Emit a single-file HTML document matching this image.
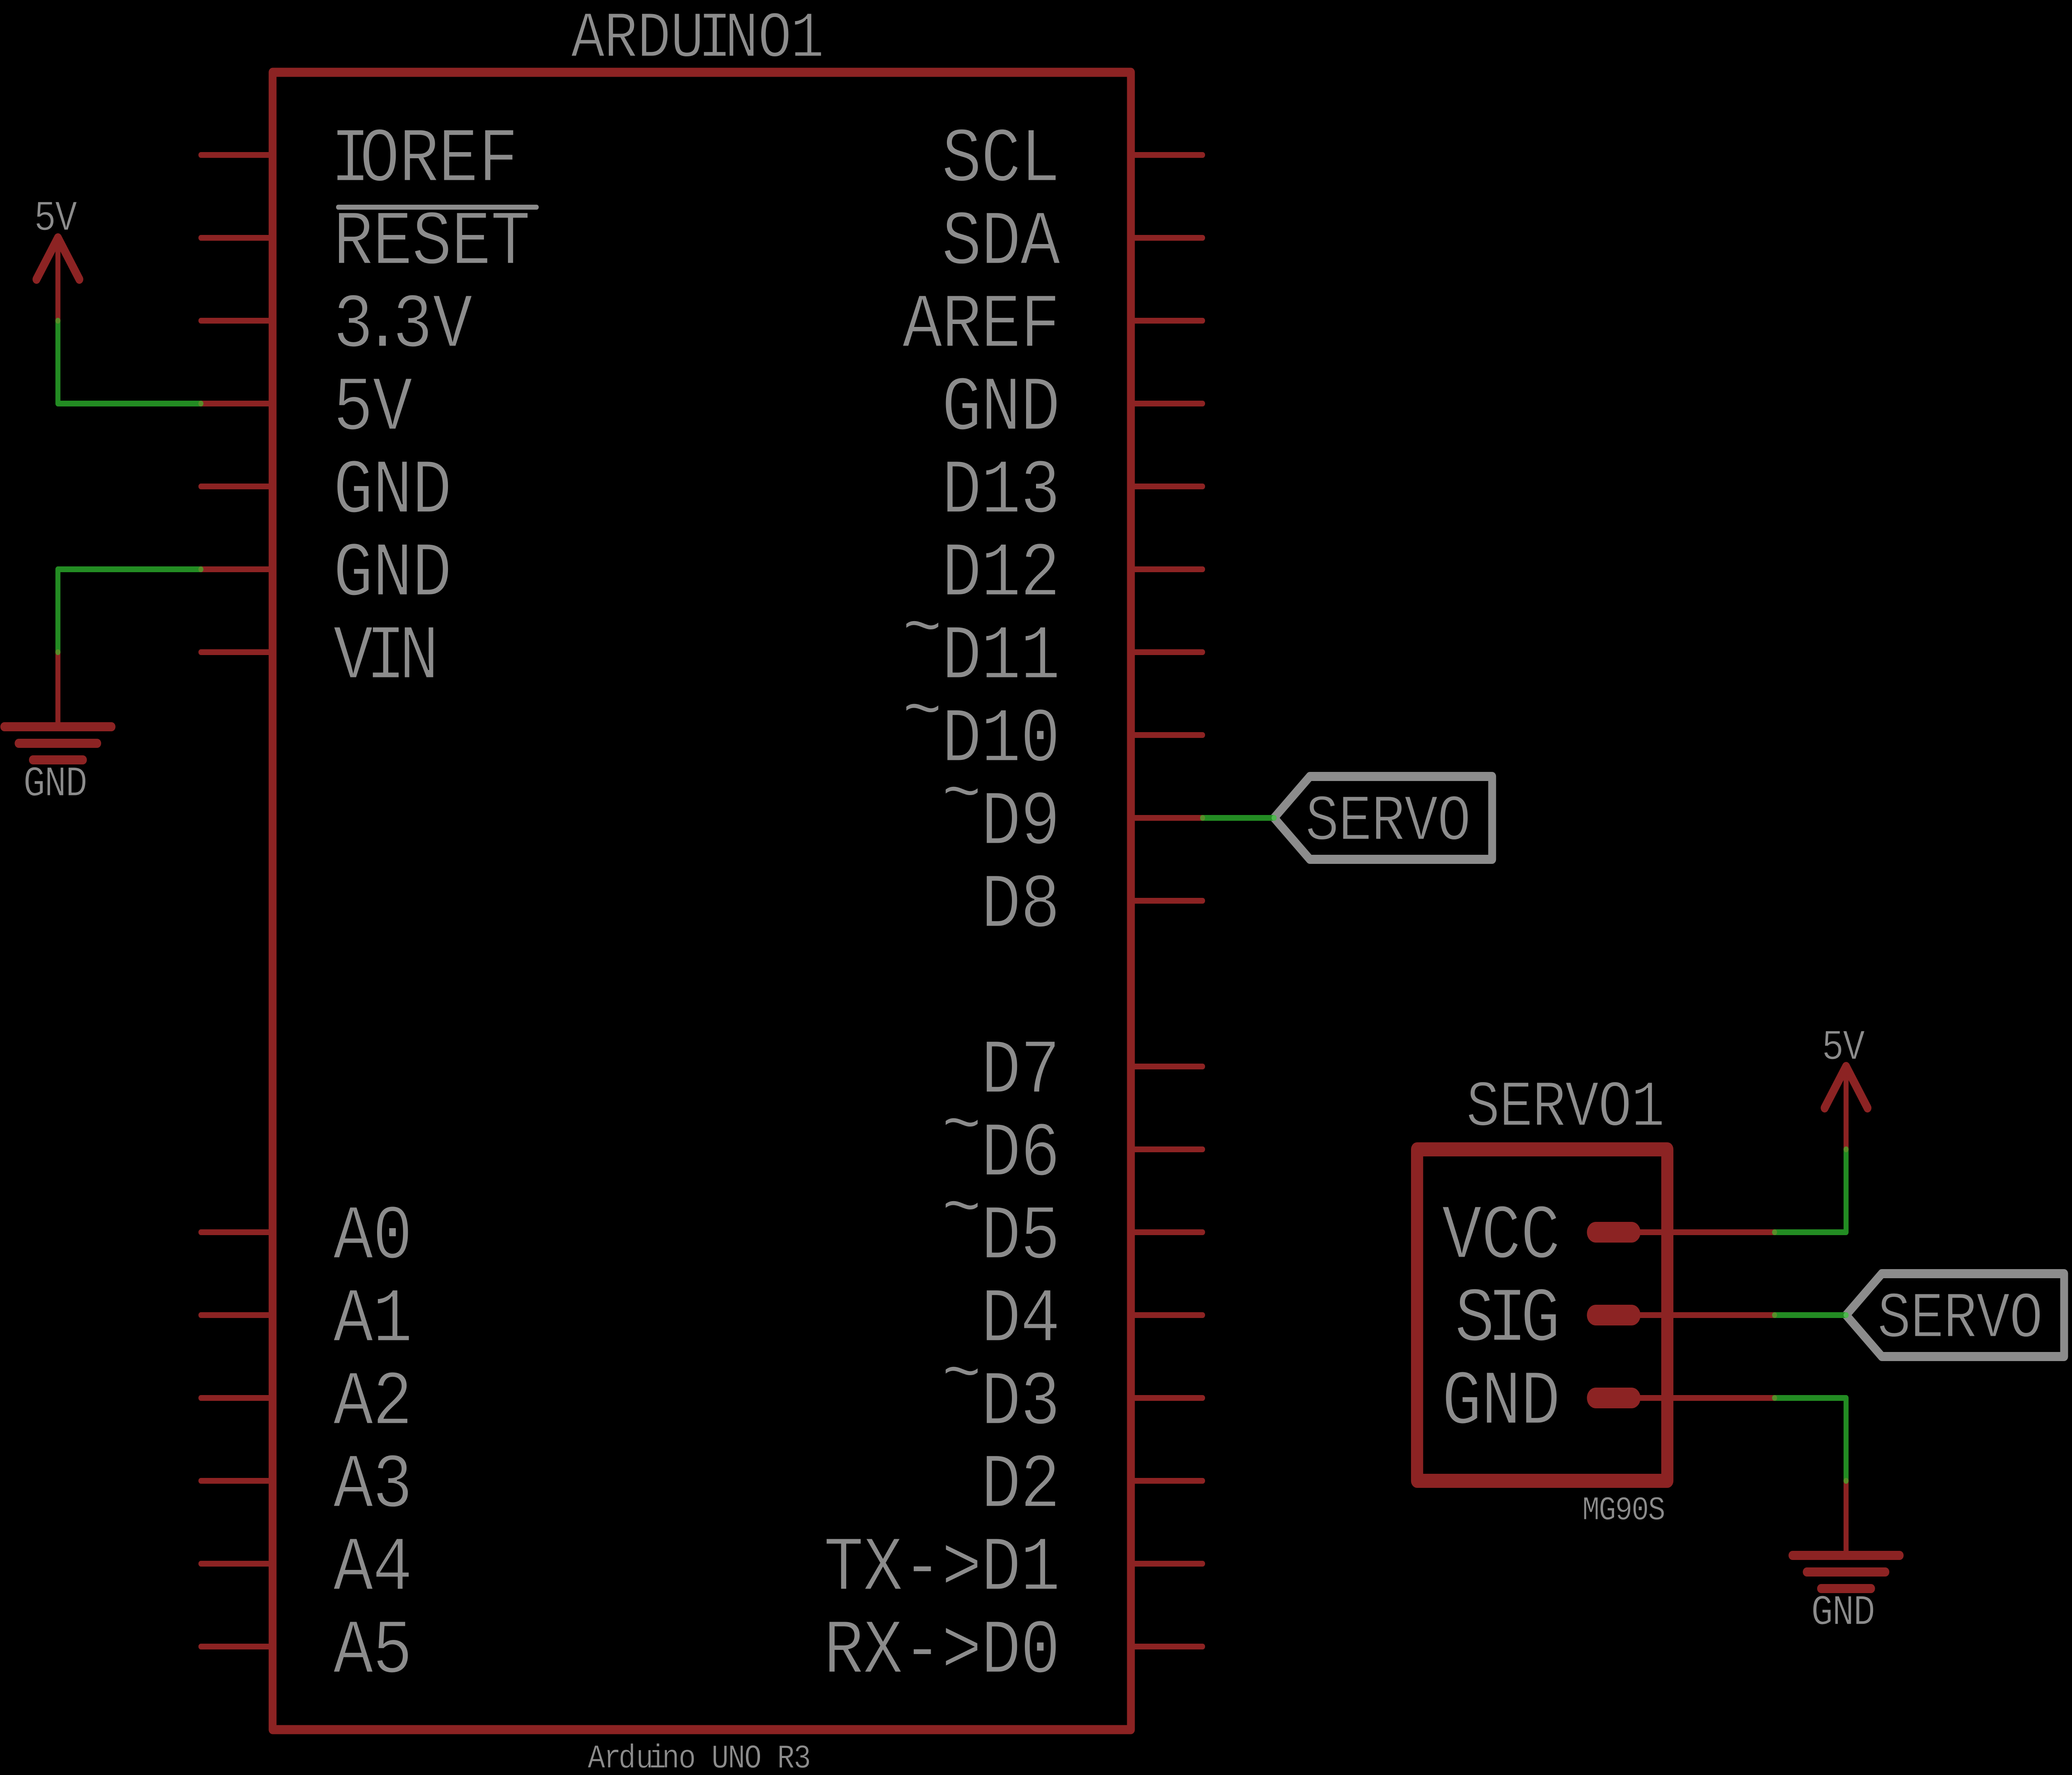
<!DOCTYPE html>
<html><head><meta charset="utf-8"><title>Schematic</title>
<style>
html,body{margin:0;padding:0;background:#000;width:100%;height:100%;overflow:hidden}
svg{display:block;width:100vw;height:100vh}
text{font-family:"Liberation Mono",monospace;fill:#8c8c8c;stroke:#000;white-space:pre}
.l{font-size:187px;letter-spacing:-2.2px;stroke-width:3px}
.m{font-size:158px;letter-spacing:-2.5px;stroke-width:3px}
.s{font-size:103px;letter-spacing:-2.8px;stroke-width:1.5px}
.t{font-size:81px;letter-spacing:-2.6px;stroke-width:1px}
.e{text-anchor:end}
.r{stroke:#8c2323;fill:none;stroke-linecap:round;stroke-linejoin:round}
.g{stroke:#238c23;fill:none;stroke-width:14;stroke-linecap:round;stroke-linejoin:round}
.y{stroke:#8c8c8c;fill:none;stroke-width:22;stroke-linecap:round;stroke-linejoin:round}
</style></head>
<body>
<svg xmlns="http://www.w3.org/2000/svg" viewBox="0 0 5796 4284" preserveAspectRatio="none">
<rect width="5796" height="4284" fill="#000"/>
<!-- pins -->
<path class="r" stroke-width="14" d="M562 374H762M562 574H762M562 774H762M562 974H762M562 1174H762M562 1374H762M562 1574H762
M562 2974H762M562 3174H762M562 3374H762M562 3574H762M562 3774H762M562 3974H762
M3164 374H3364M3164 574H3364M3164 774H3364M3164 974H3364M3164 1174H3364M3164 1374H3364M3164 1574H3364M3164 1774H3364M3164 1974H3364M3164 2174H3364
M3164 2574H3364M3164 2774H3364M3164 2974H3364M3164 3174H3364M3164 3374H3364M3164 3574H3364M3164 3774H3364M3164 3974H3364"/>
<!-- Arduino body -->
<rect class="r" stroke-width="22" x="762.500" y="174.500" width="2401" height="4000"/>
<!-- left supplies -->
<path class="r" stroke-width="14" d="M162 574V774M162 1574V1754"/>
<path class="r" stroke-width="22" d="M102 674L162 574L222 674M12 1754H312M52 1794H272M92 1834H232"/>
<!-- servo -->
<rect class="r" stroke-width="34" x="3964" y="2774" width="700" height="800"/>
<path class="r" stroke-width="50" d="M4464 2974H4564M4464 3174H4564M4464 3374H4564"/>
<path class="r" stroke-width="14" d="M4564 2974H4964M4564 3174H4964M4564 3374H4964M5164 2574V2774M5164 3574V3754"/>
<path class="r" stroke-width="22" d="M5104 2674L5164 2574L5224 2674M5014 3754H5314M5054 3794H5274M5094 3834H5234"/>
<!-- net labels -->
<path class="y" d="M3564 1974L3664 1874H4174V2074H3664Z"/>
<path class="y" d="M5164 3174L5264 3074H5774V3274H5264Z"/>
<!-- wires -->
<path class="g" d="M162 774V974H562"/>
<path class="g" d="M562 1374H162V1574"/>
<path class="g" d="M3364 1974H3564"/>
<path class="g" d="M4964 2974H5164V2774"/>
<path class="g" d="M4964 3174H5164"/>
<path class="g" d="M4964 3374H5164V3574"/>
<g fill="#588c29">
<circle cx="162" cy="774" r="7"/><circle cx="562" cy="974" r="7"/>
<circle cx="562" cy="1374" r="7"/><circle cx="162" cy="1574" r="7"/>
<circle cx="3364" cy="1974" r="7"/>
<circle cx="4964" cy="2974" r="7"/><circle cx="5164" cy="2774" r="7"/>
<circle cx="4964" cy="3174" r="7"/>
<circle cx="4964" cy="3374" r="7"/><circle cx="5164" cy="3574" r="7"/>
</g>
<g fill="#4fb84f"><circle cx="3564" cy="1974" r="7"/><circle cx="5164" cy="3174" r="7"/></g>
<!-- RESET overline -->
<path d="M946 500H1501" stroke="#8c8c8c" stroke-width="12" stroke-linecap="round" fill="none"/>
<!-- left labels -->
<text class="l" x="924 1006 1116 1226 1338" y="436">IOREF</text>
<text class="l" x="932" y="636">RESET</text>
<text class="l" x="932 1014 1098 1210" y="836">3.3V</text>
<text class="l" x="932" y="1036">5V</text>
<text class="l" x="932" y="1236">GND</text>
<text class="l" x="932" y="1436">GND</text>
<text class="l" x="932 1023 1116" y="1636">VIN</text>
<text class="l" x="932" y="3036">A0</text>
<text class="l" x="932" y="3236">A1</text>
<text class="l" x="932" y="3436">A2</text>
<text class="l" x="932" y="3636">A3</text>
<text class="l" x="932" y="3836">A4</text>
<text class="l" x="932" y="4036">A5</text>
<!-- right labels -->
<text class="l e" x="2964" y="436">SCL</text>
<text class="l e" x="2964" y="636">SDA</text>
<text class="l e" x="2964" y="836">AREF</text>
<text class="l e" x="2964" y="1036">GND</text>
<text class="l e" x="2964" y="1236">D13</text>
<text class="l e" x="2964" y="1436">D12</text>
<text class="l e" x="2964" y="1636"><tspan dy="-65">~</tspan><tspan dy="65">D11</tspan></text>
<text class="l e" x="2964" y="1836"><tspan dy="-65">~</tspan><tspan dy="65">D10</tspan></text>
<text class="l e" x="2964" y="2036"><tspan dy="-65">~</tspan><tspan dy="65">D9</tspan></text>
<text class="l e" x="2964" y="2236">D8</text>
<text class="l e" x="2964" y="2636">D7</text>
<text class="l e" x="2964" y="2836"><tspan dy="-65">~</tspan><tspan dy="65">D6</tspan></text>
<text class="l e" x="2964" y="3036"><tspan dy="-65">~</tspan><tspan dy="65">D5</tspan></text>
<text class="l e" x="2964" y="3236">D4</text>
<text class="l e" x="2964" y="3436"><tspan dy="-65">~</tspan><tspan dy="65">D3</tspan></text>
<text class="l e" x="2964" y="3636">D2</text>
<text class="l e" x="2964" y="3836">TX-&gt;D1</text>
<text class="l e" x="2964" y="4036">RX-&gt;D0</text>
<!-- titles -->
<text class="m" x="1597 1689 1782 1875 1952 2027 2120 2211" y="136">ARDUINO1</text>
<text class="t" x="1644 1689 1730 1779 1815 1852 1898 1950 1990 2036 2082 2140 2174 2220" y="4266">Arduino UNO R3</text>
<text class="s" x="95" y="555">5V</text>
<text class="s" x="65" y="1920">GND</text>
<text class="m" x="3651" y="2026">SERVO</text>
<text class="m" x="5251" y="3226">SERVO</text>
<text class="m" x="4101" y="2716">SERVO1</text>
<text class="l" x="4033" y="3035">VCC</text>
<text class="l" x="4069 4160 4253" y="3235">SIG</text>
<text class="l" x="4033" y="3435">GND</text>
<text class="t" x="4426" y="3667">MG90S</text>
<text class="s" x="5096" y="2556">5V</text>
<text class="s" x="5066" y="3920">GND</text>
</svg>
</body></html>
